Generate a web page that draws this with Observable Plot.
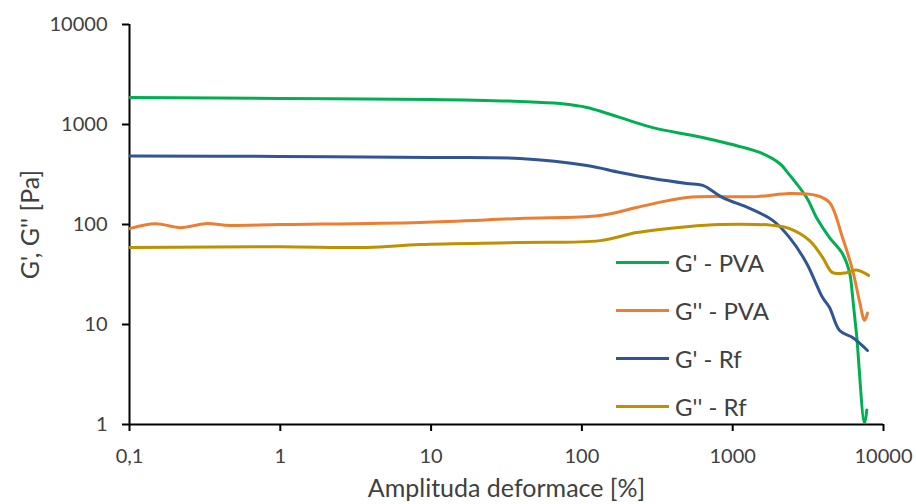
<!DOCTYPE html>
<html>
<head>
<meta charset="utf-8">
<script src="https://cdn.jsdelivr.net/npm/d3@7"></script>
<script src="https://cdn.jsdelivr.net/npm/@observablehq/plot@0.6"></script>
<style>
  html, body { margin: 0; padding: 0; background: #fff; }
  #wrap { position: relative; width: 916px; height: 504px; overflow: hidden; font-family: Lato, "Open Sans", sans-serif; }
  #legend { position: absolute; left: 616px; top: 238px; }
  .row { display: flex; align-items: center; height: 48px; font-size: 24px; color: #404040; }
  .sw { width: 53px; height: 3px; margin-right: 6px; }
</style>
</head>
<body>
<div id="wrap"><div id="chart"></div><div id="legend"></div></div>
<script>
// Strain amplitude [%] and moduli [Pa]
const seriesNames = ["G' - PVA", "G'' - PVA", "G' - Rf", "G'' - Rf"];
const seriesColors = ["#00b050", "#ed7d31", "#2f5597", "#bf9000"];

const strainGpPVA = [0.1, 1, 10, 38.8, 71.5, 108, 295, 543, 820, 1510, 2048, 2280, 3090, 3598, 4387, 5346, 5957, 6237, 6622, 7480, 7750];
const gpPVA       = [1860, 1820, 1780, 1700, 1620, 1480, 930, 776, 676, 525, 407, 340, 186, 117, 74, 51, 33, 19, 8, 1.02, 1.4];

const strainGppPVA = [0.1, 0.149, 0.218, 0.318, 0.467, 1, 8.45, 38.8, 132, 231, 496, 1442, 2384, 3598, 4387, 5346, 6237, 6934, 7480, 7830];
const gppPVA       = [91, 102, 93, 102, 98, 100, 105, 115, 123, 148, 186, 190, 204, 195, 166, 74, 35, 17, 11, 13];

const strainGpRf = [0.1, 1, 10, 38.8, 108, 179, 295, 496, 633, 859, 1297, 1841, 2384, 3090, 3945, 4387, 5117, 6237, 7830];
const gpRf       = [485, 479, 468, 457, 389, 331, 288, 257, 246, 186, 145, 110, 74, 41, 18.6, 14.8, 8.7, 7.4, 5.5];

const strainGppRf = [0.1, 1, 3.77, 8.45, 38.8, 132, 231, 496, 820, 1841, 2384, 3236, 3945, 4594, 5689, 6622, 7960];
const gppRf       = [59, 60, 59, 63, 66, 69, 83, 95, 100, 98, 91, 69, 47, 33, 33, 35, 31];

const xTicks = [0.1, 1, 10, 100, 1000, 10000];
const xTickLabels = ["0,1", "1", "10", "100", "1000", "10000"];
const yTicks = [1, 10, 100, 1000, 10000];
const yTickLabels = ["1", "10", "100", "1000", "10000"];
const xTitle = "Amplituda deformace [%]";
const yTitle = "G', G'' [Pa]";

const xs = [strainGpPVA, strainGppPVA, strainGpRf, strainGppRf];
const ys = [gpPVA, gppPVA, gpRf, gppRf];
const rows = [];
seriesNames.forEach((s, i) => xs[i].forEach((x, j) => rows.push({series: s, x, y: ys[i][j]})));

const textColor = "#404040";
const plot = Plot.plot({
  width: 916,
  height: 504,
  marginLeft: 129,
  marginRight: 33,
  marginTop: 24,
  marginBottom: 80,
  style: {fontFamily: "Lato, 'Open Sans', sans-serif", background: "#fff"},
  x: {type: "log", domain: [0.1, 10000]},
  y: {type: "log", domain: [1, 10000]},
  color: {domain: seriesNames, range: seriesColors},
  marks: [
    Plot.axisX({ticks: xTicks, tickFormat: d => xTickLabels[xTicks.indexOf(d)], tickSize: 7, tickPadding: 17,
      fontSize: 20, fill: textColor, stroke: "#000", strokeWidth: 2, label: null}),
    Plot.axisY({ticks: yTicks, tickFormat: d => yTickLabels[yTicks.indexOf(d)], tickSize: 7, tickPadding: 15,
      fontSize: 20, fill: textColor, stroke: "#000", strokeWidth: 2, label: null}),
    Plot.ruleX([0.1], {stroke: "#000", strokeWidth: 2}),
    Plot.ruleY([1], {stroke: "#000", strokeWidth: 2}),
    Plot.line(rows, {x: "x", y: "y", z: "series", stroke: "series", strokeWidth: 3, curve: "catmull-rom", clip: true}),
    Plot.text([xTitle], {frameAnchor: "bottom", dy: 64, fontSize: 25, fill: textColor, lineAnchor: "middle"}),
    Plot.text([yTitle], {frameAnchor: "left", dx: -99, rotate: -90, fontSize: 25, fill: textColor, textAnchor: "middle"})
  ]
});
document.getElementById("chart").appendChild(plot);

const legend = document.getElementById("legend");
seriesNames.forEach((s, i) => {
  const r = document.createElement("div");
  r.className = "row";
  const sw = document.createElement("div");
  sw.className = "sw";
  sw.style.background = seriesColors[i];
  r.appendChild(sw);
  const t = document.createElement("span");
  t.textContent = s;
  r.appendChild(t);
  legend.appendChild(r);
});
</script>
</body>
</html>
